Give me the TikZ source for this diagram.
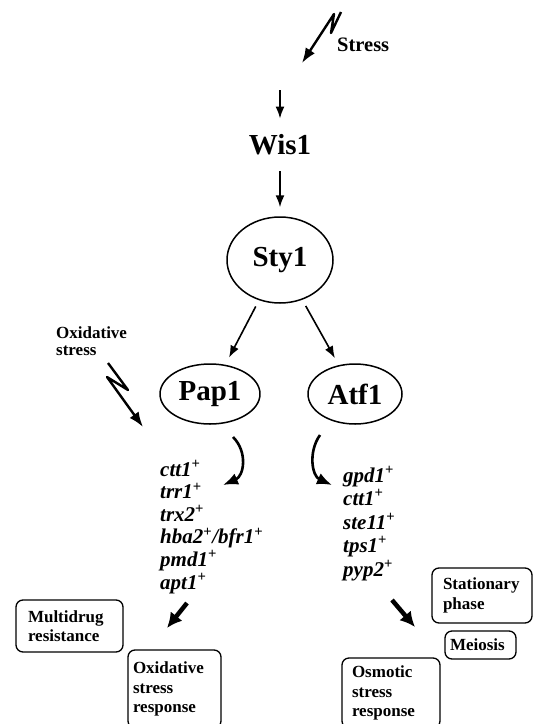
\documentclass[tikz,border=0pt]{standalone}
\usepackage{fontspec}
\setmainfont{Liberation Serif}
\usetikzlibrary{arrows.meta,shapes.geometric}
\begin{document}
\begin{tikzpicture}[x=1pt,y=-1pt,>={Latex[length=12pt,width=9pt]},line join=round,
	prot/.style={draw,ellipse,line width=1.5pt,inner sep=0pt,font=\fontsize{29}{30}\selectfont\bfseries},
	gene/.style={anchor=base west,inner sep=0pt,font=\fontsize{21}{22}\selectfont\bfseries\itshape},
	outbox/.style={draw,rounded corners=7pt,line width=1.3pt,align=left,inner ysep=0pt,font=\fontsize{17}{19.5}\selectfont\bfseries},
	thinarr/.style={->,line width=1.6pt},
	zigarr/.style={->,line width=2.4pt,>={Latex[length=15pt,width=11pt]}},
	curvarr/.style={->,line width=2.6pt,>={Latex[length=15pt,width=12pt]}},
	fatarr/.style={->,line width=4.5pt,>={Latex[length=15pt,width=15pt]}}]
	\useasboundingbox (0,0) rectangle (533,724);
	\node[font=\fontsize{20.5}{20}\selectfont\bfseries,anchor=west,inner sep=0pt] (stress) at (337,45) {Stress};
	\node[font=\fontsize{29}{30}\selectfont\bfseries,inner sep=16pt] (wis) at (280,145) {Wis1};
	\node[prot,minimum width=106pt,minimum height=86pt] (sty) at (280,260) {Sty1};
	\node[prot,minimum width=100pt,minimum height=60pt] (pap) at (210,394) {Pap1};
	\node[prot,minimum width=94pt,minimum height=60pt] (atf) at (355,394) {Atf1};
	\node[font=\fontsize{17}{17}\selectfont\bfseries,align=left,anchor=west,inner sep=0pt] (oxlab) at (56,341) {Oxidative\\stress};
	% stress input
	\coordinate (sz0) at (341,12); \coordinate (sz1) at (331,33);
	\coordinate (sz2) at (334,14); \coordinate (sztip) at (302,63);
	\draw[zigarr] (sz0) -- (sz1) -- (sz2) -- (sztip);
	\coordinate (a1) at (280,90);
	\draw[thinarr] (a1) -- (wis.north);
	\draw[thinarr,shorten >=9pt] (wis.south) -- (sty.north);
	\draw[thinarr,shorten <=7pt,shorten >=8pt] (sty) -- (pap);
	\draw[thinarr,shorten <=7pt,shorten >=8pt] (sty) -- (atf);
	\coordinate (oz0) at (108,363); \coordinate (oz1) at (128,390);
	\coordinate (oz2) at (107,377); \coordinate (oztip) at (143,427);
	\draw[zigarr] (oz0) -- (oz1) -- (oz2) -- (oztip);
	% target genes
	\coordinate (cl0) at (233,437); \coordinate (cl1) at (223,485);
	\draw[curvarr] (cl0) .. controls (248,452) and (244,476) .. (cl1);
	\coordinate (cr0) at (320,435); \coordinate (cr1) at (332,485);
	\draw[curvarr] (cr0) .. controls (308,452) and (312,476) .. (cr1);
	\foreach \g [count=\i] in {ctt1,trr1,trx2,hba2\textsuperscript{\upshape+}/bfr1,pmd1,apt1}
		\node[gene] (gl\i) at (160,{476+22.6*(\i-1)}) {\g\textsuperscript{\upshape+}};
	\foreach \g [count=\i] in {gpd1,ctt1,ste11,tps1,pyp2}
		\node[gene] (gr\i) at (343,{482+23.5*(\i-1)}) {\g\textsuperscript{\upshape+}};
	% responses
	\coordinate (bl0) at (187,603); \coordinate (bl1) at (167,628);
	\draw[fatarr] (bl0) -- (bl1);
	\coordinate (br0) at (392,600); \coordinate (br1) at (415,627);
	\draw[fatarr] (br0) -- (br1);
	\node[outbox,text width=83pt,inner xsep=12pt,minimum height=52pt] (mdr) at (69.5,626) {Multidrug\\resistance};
	\node[outbox,text width=83pt,inner xsep=5pt,minimum height=78pt] (oxr) at (174.5,689) {Oxidative\\stress\\response};
	\node[outbox,text width=78pt,inner xsep=11pt,minimum height=55pt] (stat) at (482,595.5) {Stationary\\phase};
	\node[outbox,text width=61pt,inner xsep=5pt,minimum height=28pt] (mei) at (480.5,645) {Meiosis};
	\node[outbox,text width=78pt,inner xsep=10pt,minimum height=70pt] (osm) at (391,693) {Osmotic\\stress\\response};
\end{tikzpicture}
\end{document}
